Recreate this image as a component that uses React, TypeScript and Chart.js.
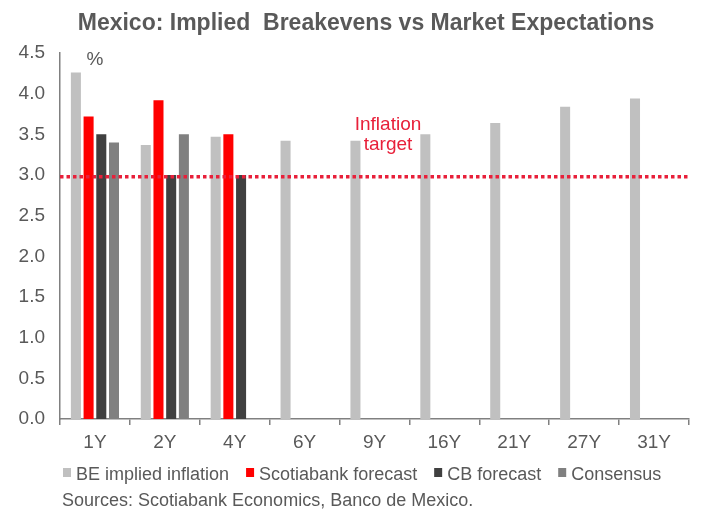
import React, { useEffect, useRef } from "react";
import { Chart, registerables } from "chart.js";

Chart.register(...registerables);

const TITLE = "Mexico: Implied  Breakevens vs Market Expectations";
const SOURCES = "Sources: Scotiabank Economics, Banco de Mexico.";
const UNIT_LABEL = "%";
const TARGET_LABEL = ["Inflation", "target"];

const categories = ["1Y", "2Y", "4Y", "6Y", "9Y", "16Y", "21Y", "27Y", "31Y"];
const beImplied = [4.26, 3.37, 3.47, 3.42, 3.42, 3.5, 3.64, 3.84, 3.94];
const scotiabankForecast = [3.72, 3.92, 3.5, null, null, null, null, null, null];
const cbForecast = [3.5, 3.0, 3.0, null, null, null, null, null, null];
const consensus = [3.4, 3.5, null, null, null, null, null, null, null];
const inflationTarget = 2.98;
const yMin = 0;
const yMax = 4.5;
const yStep = 0.5;

const seriesNames = ["BE implied inflation", "Scotiabank forecast", "CB forecast", "Consensus"];
const seriesColors = ["#c0c0c0", "#ff0000", "#404040", "#808080"];

const TEXT_GREY = "#595959";
const AXIS_GREY = "#808080";
const TARGET_RED = "#e8203a";
const FONT = "'Liberation Sans', Arial, sans-serif";

const overlayPlugin = {
  id: "overlay",
  afterDatasetsDraw(chart: any) {
    const { ctx, chartArea, scales } = chart;
    const y = scales.y.getPixelForValue(inflationTarget);
    ctx.save();
    // dotted target line
    ctx.strokeStyle = TARGET_RED;
    ctx.lineWidth = 3.5;
    ctx.setLineDash([3.5, 3]);
    ctx.beginPath();
    ctx.moveTo(chartArea.left, y);
    ctx.lineTo(chartArea.right + 1, y);
    ctx.stroke();
    ctx.setLineDash([]);

    // target label
    ctx.fillStyle = TARGET_RED;
    ctx.font = `19px ${FONT}`;
    ctx.textAlign = "center";
    ctx.textBaseline = "middle";
    ctx.fillText(TARGET_LABEL[0], 388, 125);
    ctx.fillText(TARGET_LABEL[1], 388, 145);

    // unit label
    ctx.fillStyle = TEXT_GREY;
    ctx.fillText(UNIT_LABEL, 95, 60);

    // title
    ctx.font = `bold 23px ${FONT}`;
    ctx.textBaseline = "alphabetic";
    ctx.fillText(TITLE, 366, 30);

    // legend
    ctx.font = `18px ${FONT}`;
    ctx.textAlign = "left";
    ctx.textBaseline = "middle";
    let x = 63;
    const ly = 475;
    chart.data.datasets.forEach((ds: any) => {
      ctx.fillStyle = ds.backgroundColor;
      ctx.fillRect(x, ly - 7, 8, 9);
      x += 13;
      ctx.fillStyle = TEXT_GREY;
      ctx.fillText(ds.label, x, ly);
      x += ctx.measureText(ds.label).width + 17;
    });

    // sources
    ctx.fillText(SOURCES, 62, 501);
    ctx.restore();
  },
};

export default function App() {
  const ref = useRef<HTMLCanvasElement | null>(null);

  useEffect(() => {
    if (!ref.current) return;
    const seriesData = [beImplied, scotiabankForecast, cbForecast, consensus];
    const chart = new Chart(ref.current, {
      type: "bar",
      data: {
        labels: categories,
        datasets: seriesData.map((d, i) => ({
          label: seriesNames[i],
          data: d,
          backgroundColor: seriesColors[i],
          borderWidth: 0,
          categoryPercentage: 0.727,
          barPercentage: 0.79,
        })),
      },
      options: {
        responsive: false,
        animation: false,
        devicePixelRatio: 1,
        layout: { padding: { top: 53, right: 15, bottom: 62, left: 0 } },
        plugins: {
          legend: { display: false },
          title: { display: false },
          tooltip: { enabled: false },
        },
        scales: {
          x: {
            afterFit(scale: any) {
              scale.height = 30;
            },
            grid: {
              display: true,
              drawOnChartArea: false,
              drawTicks: true,
              tickLength: 6,
              color: AXIS_GREY,
              lineWidth: 1.5,
              offset: true,
            },
            border: { display: true, color: AXIS_GREY, width: 1.5 },
            ticks: {
              color: TEXT_GREY,
              font: { family: FONT, size: 19 },
              padding: 6,
              maxRotation: 0,
            },
          },
          y: {
            min: yMin,
            max: yMax,
            afterFit(scale: any) {
              scale.width = 60;
            },
            grid: { display: false, drawTicks: false },
            border: { display: true, color: AXIS_GREY, width: 1.5 },
            ticks: {
              stepSize: yStep,
              color: TEXT_GREY,
              font: { family: FONT, size: 19 },
              padding: 15,
              callback: (v: any) => Number(v).toFixed(1),
            },
          },
        },
      },
      plugins: [overlayPlugin],
    });
    return () => chart.destroy();
  }, []);

  return (
    <div style={{ position: "absolute", left: 0, top: 0, width: 704, height: 511, background: "#fff" }}>
      <canvas ref={ref} width={704} height={511} />
    </div>
  );
}
